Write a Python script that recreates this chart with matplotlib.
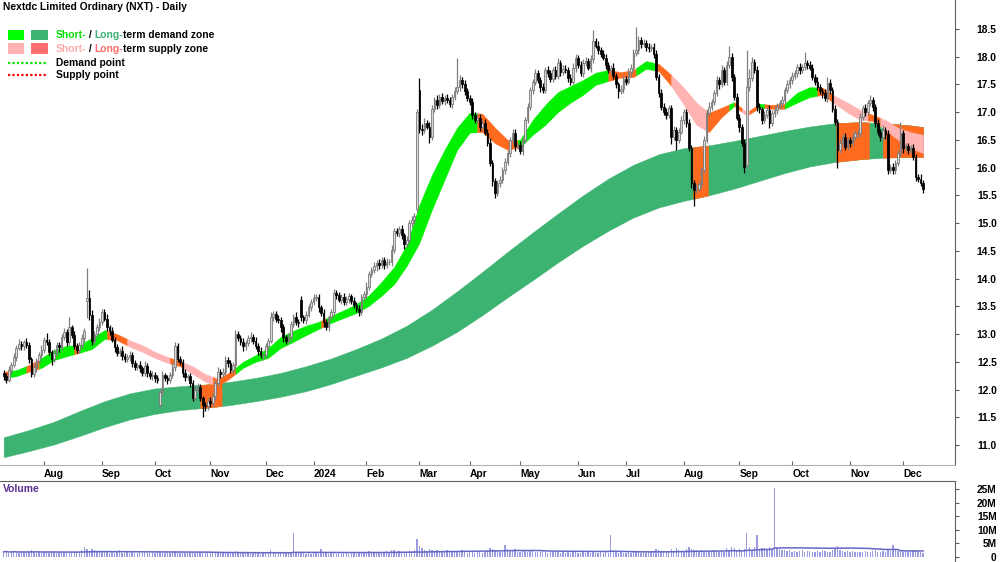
import numpy as np
import pandas as pd
import matplotlib
matplotlib.use('Agg')
import matplotlib.pyplot as plt
from matplotlib.patches import Rectangle

plt.rcParams['font.family'] = ['Liberation Sans', 'DejaVu Sans']

# ---- data ----
closes = [
    12.25, 12.18, 12.35, 12.45, 12.58, 12.75, 12.82, 12.78, 12.85, 12.80,
    12.55, 12.28, 12.40, 12.52, 12.62, 12.72, 12.90, 12.85, 12.68, 12.55,
    12.66, 12.80, 12.76, 12.95, 13.03, 12.85, 13.12, 12.98, 12.78, 12.72,
    12.80, 12.92, 13.05, 13.65, 13.35, 12.88, 13.00, 13.13, 13.22, 13.40,
    13.28, 13.12, 13.05, 12.90, 12.76, 12.66, 12.70, 12.60, 12.55, 12.58,
    12.62, 12.48, 12.41, 12.44, 12.38, 12.30, 12.42, 12.30, 12.24, 12.27,
    12.21, 12.17, 11.96, 12.26, 12.20, 12.17, 12.26, 12.41, 12.78, 12.55,
    12.50, 12.30, 12.22, 12.24, 12.12, 11.85, 12.00, 12.05, 11.85, 11.72,
    11.70, 11.80, 11.76, 11.88, 12.12, 12.32, 12.28, 12.32, 12.53, 12.48,
    12.35, 12.45, 13.00, 12.93, 12.86, 12.78, 12.84, 12.93, 12.95, 12.88,
    12.78, 12.70, 12.62, 12.62, 12.78, 12.88, 13.31, 13.36, 13.28, 13.25,
    13.12, 12.95, 12.88, 12.95, 13.18, 13.31, 13.22, 13.20, 13.30, 13.25,
    13.35, 13.49, 13.58, 13.65, 13.67, 13.48, 13.38, 13.22, 13.12, 13.30,
    13.40, 13.74, 13.70, 13.62, 13.67, 13.58, 13.63, 13.68, 13.60, 13.52,
    13.45, 13.40, 13.66, 13.72, 13.85, 14.08, 14.15, 14.22, 14.28, 14.24,
    14.33, 14.25, 14.30, 14.30, 14.52, 14.85, 14.82, 14.90, 14.78, 14.62,
    14.70, 15.00, 15.05, 15.12, 17.00, 16.70, 16.68, 16.80, 16.74, 16.55,
    17.05, 17.22, 17.13, 17.27, 17.20, 17.25, 17.22, 17.15, 17.27, 17.38,
    17.45, 17.58, 17.50, 17.38, 17.25, 17.18, 16.95, 16.86, 16.90, 16.74,
    16.80, 16.63, 16.45, 16.08, 15.75, 15.54, 15.72, 15.78, 15.95, 16.10,
    16.26, 16.50, 16.63, 16.38, 16.40, 16.30, 16.50, 16.86, 17.09, 17.40,
    17.55, 17.70, 17.58, 17.45, 17.40, 17.75, 17.70, 17.60, 17.76, 17.65,
    17.89, 17.72, 17.78, 17.76, 17.62, 17.55, 17.80, 17.98, 17.85, 17.70,
    17.89, 17.92, 17.80, 17.95, 18.28, 18.20, 18.12, 18.05, 17.98, 17.85,
    17.76, 17.80, 17.65, 17.50, 17.38, 17.42, 17.60, 17.55, 17.72, 17.80,
    18.06, 18.12, 18.30, 18.22, 18.25, 18.18, 18.15, 18.18, 18.05, 17.64,
    17.35, 17.10, 17.00, 16.95, 17.07, 16.55, 16.68, 16.50, 16.65, 16.85,
    17.00, 16.80, 16.35, 15.72, 15.60, 15.62, 15.70, 15.96, 16.50, 16.99,
    17.10, 17.18, 17.35, 17.58, 17.50, 17.76, 17.55, 17.85, 18.00, 17.63,
    17.27, 16.90, 16.73, 16.44, 16.01, 17.45, 17.62, 17.90, 17.75, 17.10,
    17.05, 16.86, 16.95, 17.04, 16.80, 16.98, 17.04, 17.10, 17.16, 17.22,
    17.40, 17.50, 17.58, 17.65, 17.70, 17.81, 17.76, 17.81, 17.89, 17.85,
    17.80, 17.64, 17.55, 17.45, 17.38, 17.34, 17.25, 17.53, 17.40, 17.05,
    16.82, 16.32, 16.44, 16.55, 16.37, 16.50, 16.45, 16.55, 16.62, 16.62,
    16.91, 17.07, 17.00, 17.16, 17.22, 17.10, 16.80, 16.64, 16.55, 16.68,
    16.60, 15.95, 16.01, 15.95, 16.08, 16.26, 16.62, 16.35, 16.38, 16.32,
    16.35, 16.19, 15.83, 15.80, 15.72, 15.62,
]

# opens follow the previous close except where the day gapped
first_open = 12.30
gap_opens = {33: 13.60, 62: 11.72, 118: 13.62, 164: 15.25, 165: 17.40, 295: 16.05}

upper_wicks = [
    0.06, 0.05, 0.08, 0.04, 0.07, 0.05, 0.09, 0.06, 0.05, 0.08,
    0.06, 0.04, 0.07, 0.05, 0.06, 0.08, 0.05, 0.12, 0.06, 0.04,
    0.07, 0.05, 0.06, 0.05, 0.08, 0.06, 0.18, 0.05, 0.07, 0.06,
    0.05, 0.08, 0.06, 0.54, 0.15, 0.08, 0.06, 0.05, 0.07, 0.05,
    0.06, 0.08, 0.05, 0.07, 0.04, 0.06, 0.05, 0.08, 0.05, 0.06,
    0.07, 0.05, 0.06, 0.04, 0.08, 0.05, 0.10, 0.06, 0.05, 0.07,
    0.05, 0.06, 0.05, 0.07, 0.04, 0.06, 0.05, 0.08, 0.08, 0.05,
    0.06, 0.05, 0.07, 0.04, 0.06, 0.05, 0.08, 0.06, 0.05, 0.04,
    0.06, 0.05, 0.07, 0.05, 0.06, 0.08, 0.05, 0.06, 0.07, 0.05,
    0.06, 0.05, 0.08, 0.06, 0.05, 0.07, 0.05, 0.06, 0.08, 0.05,
    0.06, 0.05, 0.07, 0.04, 0.06, 0.05, 0.08, 0.06, 0.05, 0.07,
    0.05, 0.06, 0.04, 0.07, 0.05, 0.06, 0.08, 0.05, 0.06, 0.05,
    0.07, 0.05, 0.06, 0.08, 0.05, 0.06, 0.05, 0.07, 0.06, 0.05,
    0.06, 0.08, 0.05, 0.06, 0.05, 0.07, 0.05, 0.06, 0.04, 0.06,
    0.05, 0.07, 0.06, 0.05, 0.08, 0.06, 0.05, 0.07, 0.06, 0.08,
    0.06, 0.05, 0.07, 0.05, 0.08, 0.06, 0.07, 0.05, 0.06, 0.05,
    0.07, 0.05, 0.08, 0.06, 0.05, 0.22, 0.08, 0.10, 0.06, 0.08,
    0.07, 0.06, 0.09, 0.05, 0.08, 0.06, 0.07, 0.05, 0.06, 0.08,
    0.53, 0.08, 0.06, 0.07, 0.05, 0.06, 0.08, 0.05, 0.07, 0.06,
    0.05, 0.07, 0.06, 0.08, 0.05, 0.06, 0.05, 0.07, 0.06, 0.08,
    0.06, 0.05, 0.07, 0.06, 0.05, 0.08, 0.06, 0.05, 0.07, 0.06,
    0.05, 0.08, 0.06, 0.05, 0.07, 0.06, 0.08, 0.05, 0.06, 0.07,
    0.08, 0.05, 0.06, 0.07, 0.05, 0.06, 0.08, 0.06, 0.05, 0.07,
    0.06, 0.08, 0.05, 0.07, 0.20, 0.06, 0.08, 0.05, 0.06, 0.07,
    0.06, 0.05, 0.08, 0.06, 0.05, 0.07, 0.06, 0.05, 0.08, 0.06,
    0.07, 0.42, 0.08, 0.06, 0.07, 0.05, 0.06, 0.05, 0.07, 0.06,
    0.05, 0.07, 0.06, 0.08, 0.05, 0.06, 0.07, 0.05, 0.06, 0.08,
    0.06, 0.05, 0.07, 0.06, 0.05, 0.08, 0.06, 0.05, 0.07, 0.06,
    0.08, 0.06, 0.05, 0.07, 0.06, 0.08, 0.05, 0.07, 0.20, 0.06,
    0.05, 0.07, 0.06, 0.05, 0.08, 0.67, 0.15, 0.10, 0.06, 0.08,
    0.06, 0.05, 0.07, 0.06, 0.08, 0.05, 0.07, 0.06, 0.05, 0.07,
    0.06, 0.08, 0.05, 0.07, 0.06, 0.05, 0.08, 0.06, 0.19, 0.05,
    0.07, 0.06, 0.05, 0.08, 0.06, 0.05, 0.07, 0.10, 0.06, 0.05,
    0.07, 0.06, 0.08, 0.05, 0.07, 0.06, 0.05, 0.08, 0.06, 0.05,
    0.07, 0.06, 0.08, 0.05, 0.08, 0.06, 0.05, 0.07, 0.06, 0.08,
    0.05, 0.07, 0.06, 0.08, 0.05, 0.06, 0.20, 0.05, 0.07, 0.06,
    0.05, 0.07, 0.06, 0.05, 0.08, 0.06,
]

lower_wicks = [
    0.08, 0.06, 0.05, 0.07, 0.05, 0.06, 0.04, 0.07, 0.06, 0.05,
    0.07, 0.06, 0.05, 0.08, 0.05, 0.06, 0.07, 0.05, 0.06, 0.10,
    0.05, 0.06, 0.08, 0.05, 0.06, 0.07, 0.05, 0.06, 0.05, 0.07,
    0.06, 0.05, 0.07, 0.31, 0.10, 0.08, 0.06, 0.05, 0.07, 0.06,
    0.05, 0.07, 0.06, 0.05, 0.08, 0.06, 0.05, 0.07, 0.06, 0.05,
    0.06, 0.08, 0.05, 0.06, 0.07, 0.05, 0.06, 0.08, 0.05, 0.06,
    0.07, 0.05, 0.03, 0.06, 0.05, 0.07, 0.06, 0.05, 0.08, 0.06,
    0.05, 0.07, 0.06, 0.05, 0.08, 0.06, 0.05, 0.07, 0.06, 0.22,
    0.08, 0.06, 0.07, 0.05, 0.06, 0.05, 0.07, 0.06, 0.05, 0.08,
    0.06, 0.05, 0.07, 0.06, 0.05, 0.08, 0.06, 0.05, 0.07, 0.06,
    0.05, 0.07, 0.06, 0.08, 0.05, 0.06, 0.05, 0.07, 0.06, 0.05,
    0.08, 0.10, 0.06, 0.05, 0.07, 0.06, 0.05, 0.08, 0.06, 0.05,
    0.06, 0.05, 0.07, 0.06, 0.05, 0.08, 0.06, 0.10, 0.05, 0.06,
    0.05, 0.07, 0.06, 0.05, 0.08, 0.06, 0.05, 0.07, 0.06, 0.05,
    0.06, 0.08, 0.05, 0.06, 0.07, 0.05, 0.06, 0.05, 0.08, 0.06,
    0.05, 0.07, 0.06, 0.05, 0.08, 0.06, 0.05, 0.07, 0.06, 0.08,
    0.06, 0.05, 0.07, 0.06, 0.05, 0.08, 0.10, 0.06, 0.05, 0.10,
    0.06, 0.05, 0.07, 0.06, 0.05, 0.08, 0.06, 0.05, 0.07, 0.06,
    0.05, 0.07, 0.06, 0.08, 0.05, 0.06, 0.07, 0.05, 0.06, 0.08,
    0.06, 0.05, 0.07, 0.06, 0.08, 0.09, 0.06, 0.07, 0.05, 0.06,
    0.05, 0.07, 0.06, 0.08, 0.05, 0.06, 0.07, 0.05, 0.06, 0.05,
    0.07, 0.06, 0.05, 0.08, 0.06, 0.05, 0.07, 0.06, 0.05, 0.06,
    0.05, 0.07, 0.06, 0.05, 0.08, 0.06, 0.05, 0.07, 0.06, 0.05,
    0.07, 0.06, 0.05, 0.08, 0.06, 0.05, 0.07, 0.06, 0.05, 0.08,
    0.06, 0.07, 0.05, 0.06, 0.13, 0.05, 0.07, 0.06, 0.05, 0.08,
    0.06, 0.05, 0.07, 0.06, 0.05, 0.08, 0.06, 0.05, 0.07, 0.06,
    0.08, 0.06, 0.05, 0.07, 0.06, 0.13, 0.05, 0.18, 0.06, 0.05,
    0.07, 0.06, 0.05, 0.08, 0.30, 0.06, 0.05, 0.07, 0.06, 0.05,
    0.06, 0.07, 0.05, 0.06, 0.08, 0.05, 0.07, 0.06, 0.05, 0.07,
    0.06, 0.05, 0.08, 0.06, 0.11, 0.05, 0.07, 0.06, 0.05, 0.08,
    0.06, 0.07, 0.05, 0.06, 0.08, 0.05, 0.06, 0.07, 0.05, 0.06,
    0.07, 0.05, 0.06, 0.08, 0.05, 0.06, 0.07, 0.05, 0.06, 0.08,
    0.05, 0.06, 0.07, 0.05, 0.06, 0.08, 0.05, 0.06, 0.07, 0.05,
    0.06, 0.33, 0.05, 0.07, 0.06, 0.05, 0.08, 0.06, 0.05, 0.07,
    0.06, 0.05, 0.07, 0.06, 0.05, 0.08, 0.06, 0.05, 0.07, 0.06,
    0.08, 0.06, 0.05, 0.07, 0.06, 0.05, 0.06, 0.08, 0.05, 0.07,
    0.06, 0.05, 0.07, 0.06, 0.05, 0.08,
]

# daily volume in millions
volumes = [
    1.9, 2.1, 1.6, 1.8, 2.3, 1.7, 1.5, 2.0, 1.8, 1.6,
    2.2, 2.4, 1.7, 1.5, 1.9, 1.6, 1.8, 2.0, 1.5, 2.1,
    1.7, 1.6, 1.9, 1.4, 1.8, 2.0, 1.6, 1.5, 1.7, 2.2,
    1.9, 2.6, 3.7, 2.8, 2.2, 3.1, 2.4, 2.0, 1.9, 2.3,
    1.8, 1.7, 1.6, 2.0, 1.5, 1.8, 2.7, 1.6, 1.4, 1.7,
    1.5, 1.9, 1.6, 1.3, 1.7, 1.5, 2.1, 1.4, 1.6, 1.8,
    1.5, 1.9, 2.3, 1.6, 1.4, 1.7, 1.5, 1.8, 2.2, 1.6,
    1.4, 1.5, 1.3, 1.6, 1.7, 2.0, 1.5, 1.4, 1.8, 1.6,
    1.5, 1.3, 1.6, 1.4, 1.7, 1.5, 1.3, 1.6, 1.4, 1.5,
    1.3, 1.7, 2.1, 1.5, 1.4, 1.6, 1.3, 1.5, 1.2, 1.4,
    1.3, 1.6, 1.2, 1.5, 1.4, 1.8, 2.4, 1.6, 1.5, 1.3,
    1.7, 2.0, 1.5, 1.4, 1.9, 8.8, 1.8, 1.6, 1.4, 1.3,
    1.2, 1.5, 1.1, 1.3, 1.4, 1.2, 3.0, 1.5, 1.3, 1.2,
    1.4, 1.3, 1.1, 1.5, 1.2, 1.3, 1.4, 1.2, 1.5, 1.3,
    1.2, 1.6, 1.4, 1.3, 1.5, 2.2, 1.7, 1.5, 1.9, 1.6,
    1.8, 1.5, 2.1, 1.7, 2.4, 2.6, 1.9, 2.2, 1.8, 1.7,
    2.0, 2.3, 2.1, 2.5, 6.6, 4.2, 3.3, 2.6, 2.2, 2.9,
    2.5, 2.0, 2.6, 1.9, 2.2, 1.8, 2.6, 2.1, 1.7, 2.0,
    2.3, 1.9, 2.5, 1.8, 1.6, 2.0, 1.7, 1.5, 1.9, 1.8,
    1.6, 1.9, 2.4, 3.2, 2.8, 2.5, 2.2, 2.0, 1.8, 4.4,
    3.0, 2.6, 2.2, 3.1, 2.0, 1.8, 2.1, 2.4, 1.9, 2.7,
    2.2, 1.8, 2.0, 1.7, 2.4, 1.9, 1.6, 1.8, 2.0, 1.7,
    1.9, 1.5, 1.8, 1.6, 2.1, 1.5, 1.7, 1.9, 1.4, 1.6,
    1.8, 1.5, 1.7, 1.4, 1.9, 1.6, 1.5, 1.8, 1.4, 1.7,
    1.6, 8.0, 1.9, 1.7, 1.5, 1.8, 1.6, 1.4, 1.7, 1.5,
    1.8, 2.1, 1.7, 1.5, 1.9, 1.6, 1.8, 2.0, 1.7, 3.0,
    2.4, 2.1, 1.9, 2.2, 1.8, 2.8, 2.3, 3.2, 2.5, 2.0,
    2.2, 2.9, 3.8, 3.0, 2.7, 2.4, 2.1, 2.6, 2.3, 2.0,
    2.2, 1.9, 2.4, 2.1, 1.8, 2.3, 2.0, 3.2, 2.2, 3.6,
    3.4, 2.6, 2.9, 2.5, 3.0, 8.8, 3.5, 2.7, 3.8, 8.0,
    2.9, 3.4, 3.3, 2.8, 3.7, 3.1, 25.5, 3.3, 2.9, 2.6,
    2.6, 2.1, 2.4, 2.0, 2.3, 1.8, 2.2, 2.5, 1.9, 2.1,
    2.3, 2.0, 1.8, 2.2, 1.9, 2.4, 2.1, 1.7, 2.0, 2.6,
    3.1, 4.0, 2.7, 2.3, 2.0, 2.2, 1.8, 2.1, 1.7, 1.9,
    2.0, 1.8, 2.2, 1.9, 1.7, 2.1, 2.4, 2.0, 1.8, 2.2,
    1.9, 3.1, 2.3, 4.4, 2.4, 2.1, 2.6, 2.0, 2.2, 1.8,
    2.1, 2.4, 2.7, 2.2, 2.0, 1.6,
]

asx_holidays = ['2023-12-25', '2023-12-26', '2024-01-01', '2024-01-26',
                '2024-03-29', '2024-04-01', '2024-04-25', '2024-06-10']

# long-term zone edges, sampled every 10 sessions
long_idx = list(range(0, 361, 10)) + [365]
long_top = [11.14, 11.27, 11.42, 11.61, 11.79, 11.93, 12.02, 12.06, 12.09, 12.14,
            12.21, 12.30, 12.42, 12.56, 12.73, 12.92, 13.15, 13.44, 13.77, 14.12,
            14.48, 14.83, 15.17, 15.50, 15.80, 16.05, 16.24, 16.35, 16.40, 16.48,
            16.57, 16.66, 16.74, 16.80, 16.82, 16.80, 16.76, 16.73]
long_bot = [10.78, 10.89, 11.01, 11.16, 11.32, 11.46, 11.56, 11.63, 11.67, 11.72,
            11.79, 11.87, 11.97, 12.10, 12.25, 12.40, 12.57, 12.79, 13.04, 13.34,
            13.66, 13.97, 14.29, 14.59, 14.86, 15.10, 15.28, 15.40, 15.50, 15.62,
            15.76, 15.90, 16.02, 16.10, 16.15, 16.18, 16.19, 16.19]
long_orange = [(78, 86.5), (273.6, 279.6), (330.5, 343.5), (349, 365)]

# short-term zone edges, sampled every 5 sessions
short_idx = list(range(0, 366, 5))
short_top = [12.32, 12.35, 12.44, 12.57, 12.71, 12.79, 12.80, 12.93, 13.07, 13.00,
             12.89, 12.80, 12.68, 12.59, 12.51, 12.42, 12.28, 12.19, 12.32, 12.50,
             12.62, 12.75, 12.95, 13.06, 13.15, 13.22, 13.33, 13.43, 13.54, 13.70,
             13.94, 14.21, 14.61, 15.33, 15.87, 16.32, 16.72, 16.99, 16.97, 16.72,
             16.50, 16.50, 16.86, 17.13, 17.36, 17.47, 17.58, 17.71, 17.76, 17.72,
             17.76, 17.92, 17.87, 17.67, 17.44, 17.17, 16.99, 17.08, 17.18, 17.00,
             17.15, 17.13, 17.15, 17.35, 17.45, 17.44, 17.29, 17.17, 17.04, 16.95,
             16.86, 16.72, 16.64, 16.59]
short_bot = [12.21, 12.24, 12.32, 12.39, 12.53, 12.60, 12.66, 12.73, 12.91, 12.89,
             12.77, 12.68, 12.57, 12.48, 12.42, 12.28, 12.14, 12.06, 12.21, 12.39,
             12.50, 12.57, 12.75, 12.86, 12.98, 13.09, 13.20, 13.29, 13.38, 13.51,
             13.69, 13.90, 14.23, 14.64, 15.24, 15.78, 16.32, 16.63, 16.64, 16.44,
             16.32, 16.37, 16.59, 16.77, 17.00, 17.17, 17.31, 17.49, 17.56, 17.62,
             17.63, 17.78, 17.74, 17.47, 17.13, 16.77, 16.64, 16.91, 17.11, 16.93,
             17.08, 17.06, 17.06, 17.17, 17.27, 17.31, 17.15, 16.99, 16.86, 16.84,
             16.68, 16.50, 16.35, 16.26]
# g = demand, p = supply, o = overlap
short_starts = [0, 2, 9, 14, 28, 30, 41, 49, 66, 71, 83, 92, 126, 128, 188, 204,
                240, 251, 259, 265, 279, 288, 290, 293, 296, 299, 302, 310, 323, 329, 343, 348]
short_kinds = ['o', 'g', 'o', 'g', 'o', 'g', 'o', 'p', 'o', 'p', 'o', 'g', 'o', 'g', 'o', 'g',
               'o', 'g', 'o', 'p', 'o', 'g', 'o', 'p', 'o', 'g', 'o', 'g', 'o', 'p', 'o', 'p']

BRIGHT_GREEN = '#00f000'
DARK_GREEN = '#3cb371'
PINK = '#ffb3b3'
SALMON = '#ff7070'
ORANGE = '#ff6a1f'
kind_colour = {'g': BRIGHT_GREEN, 'p': PINK, 'o': ORANGE}

# ---- prep ----
dates = pd.bdate_range('2023-07-10', '2024-12-12')
dates = dates[~dates.isin(pd.to_datetime(asx_holidays))][:len(closes)]
n = len(closes)
x = np.arange(n)
c = np.array(closes)
o = np.r_[first_open, c[:-1]]
for k, v in gap_opens.items():
    o[k] = v
h = np.maximum(o, c) + np.array(upper_wicks)
l = np.minimum(o, c) - np.array(lower_wicks)
up = c >= o

fig = plt.figure(figsize=(10, 5.62), dpi=100)
fig.patch.set_facecolor('white')
ax = fig.add_axes([0, 97 / 562, 0.955, 465 / 562])
axv = fig.add_axes([0, 0, 0.955, 81 / 562])


def zone(a, idx, top, bot, start, end, colour, z):
    xs = sorted(set([start, end] + [k for k in idx if start < k < end]))
    a.fill_between(xs, np.interp(xs, idx, bot), np.interp(xs, idx, top),
                   color=colour, lw=0.3, zorder=z)


# long-term zone
zone(ax, long_idx, long_top, long_bot, 0, n - 1, DARK_GREEN, 1)
for s, e in long_orange:
    zone(ax, long_idx, long_top, long_bot, s, e, ORANGE, 1.5)

# short-term zone
ends = short_starts[1:] + [n - 1]
for s, e, kind in zip(short_starts, ends, short_kinds):
    zone(ax, short_idx, short_top, short_bot, s, e, kind_colour[kind], 2)

# candles
ax.vlines(x[up], l[up], h[up], color='#808080', lw=0.9, zorder=3)
ax.vlines(x[~up], l[~up], h[~up], color='black', lw=0.9, zorder=3)
ax.bar(x[up], (c - o)[up], bottom=o[up], width=0.66, color='#dadada',
       edgecolor='#707070', linewidth=0.55, zorder=4)
ax.bar(x[~up], (o - c)[~up], bottom=c[~up], width=0.66, color='black',
       edgecolor='black', linewidth=0.55, zorder=4)

ax.set_xlim(-1.47, 377.65)
ax.set_ylim(10.64, 19.02)

# month ticks
months = dates.to_period('M')
tick_pos = [i for i in range(1, n) if months[i] != months[i - 1]]
tick_lab = ['2024' if dates[i].month == 1 else dates[i].strftime('%b') for i in tick_pos]

lab_font = dict(fontsize=7.4, fontweight='bold')
ax.set_xticks(tick_pos)
ax.set_xticklabels(tick_lab, ha='left', **lab_font)
ax.tick_params(axis='x', direction='in', length=3, width=0.8, color='#606060', pad=3)

ax.yaxis.tick_right()
ax.set_yticks(np.arange(11.0, 18.51, 0.5))
ax.set_yticklabels([f'{v:.1f}' for v in np.arange(11.0, 18.51, 0.5)], ha='right', **lab_font)
ax.tick_params(axis='y', direction='out', length=3, width=0.8, color='#606060', pad=27)

for side in ['top', 'left']:
    ax.spines[side].set_visible(False)
ax.spines['right'].set_color('#606060')
ax.spines['bottom'].set_color('#b0b0b0')
ax.spines['bottom'].set_linewidth(0.8)

# volume panel
vol = np.array(volumes)
vol_avg = pd.Series(vol).rolling(50, min_periods=1).mean()
axv.bar(x, vol, width=0.55, color='#9a9ae0', linewidth=0)
axv.plot(x, vol_avg, color='#6666c4', lw=1.1)
axv.set_xlim(-1.47, 377.65)
axv.set_ylim(-1.84, 27.94)
axv.set_xticks([])
axv.yaxis.tick_right()
axv.set_yticks([0, 5, 10, 15, 20, 25])
axv.set_yticklabels(['0', '5M', '10M', '15M', '20M', '25M'], ha='right', **lab_font)
axv.tick_params(axis='y', direction='out', length=3, width=0.8, color='#606060', pad=27)
for side in ['left', 'bottom']:
    axv.spines[side].set_visible(False)
axv.spines['top'].set_color('#606060')
axv.spines['right'].set_color('#606060')

# overlay in pixel coords for title / legend
ov = fig.add_axes([0, 0, 1, 1])
ov.set_xlim(0, 1000)
ov.set_ylim(562, 0)
ov.axis('off')
ov.patch.set_alpha(0)

ov.text(3, 7, 'Nextdc Limited Ordinary (NXT) - Daily', va='center', **lab_font)
ov.text(3, 489, 'Volume', va='center', color='#5a2d91', **lab_font)

ov.add_patch(Rectangle((7.5, 29.8), 16.7, 10.6, color='#00ff00', lw=0))
ov.add_patch(Rectangle((31.3, 29.8), 16.7, 10.6, color=DARK_GREEN, lw=0))
ov.add_patch(Rectangle((7.5, 43.2), 16.7, 10.6, color=PINK, lw=0))
ov.add_patch(Rectangle((31.3, 43.2), 16.7, 10.6, color=SALMON, lw=0))
ov.plot([7.5, 46], [62.5, 62.5], color='#00e000', lw=1.6, ls=(0, (1, 1)), dash_capstyle='butt')
ov.plot([7.5, 46], [74.8, 74.8], color='#ff0000', lw=1.6, ls=(0, (1, 1)), dash_capstyle='butt')

renderer = fig.canvas.get_renderer()


def rich_text(x0, y0, parts):
    for s, col in parts:
        t = ov.text(x0, y0, s, color=col, va='center', **lab_font)
        x0 += t.get_window_extent(renderer).width


rich_text(55.5, 35, [('Short-', '#00e000'), ('\u00a0/\u00a0', 'black'),
                     ('Long-', DARK_GREEN), ('term demand zone', 'black')])
rich_text(55.5, 48.5, [('Short-', '#ffaaaa'), ('\u00a0/\u00a0', 'black'),
                       ('Long-', '#ff6b6b'), ('term supply zone', 'black')])
ov.text(55.5, 62.5, 'Demand point', va='center', **lab_font)
ov.text(55.5, 74.8, 'Supply point', va='center', **lab_font)

fig.savefig('out.png', dpi=100, facecolor='white')
